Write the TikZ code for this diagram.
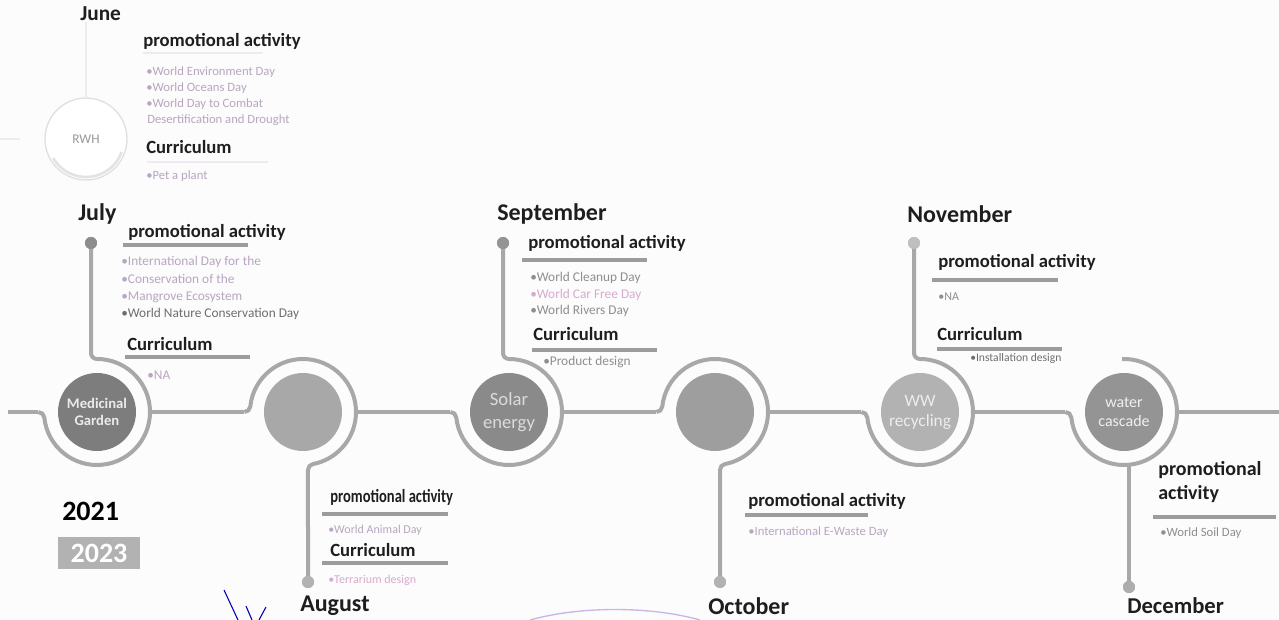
\documentclass[tikz,border=0pt]{standalone}
\usepackage{fontspec}
\setmainfont{Carlito}
\definecolor{trk}{HTML}{A8A8A8}
\definecolor{barc}{HTML}{9C9C9C}
\definecolor{ink}{HTML}{1E1E1E}
\definecolor{lil}{HTML}{B9A6C0}
\definecolor{pnk}{HTML}{D7ABCD}
\definecolor{gry}{HTML}{8E8E8E}
\definecolor{dgry}{HTML}{6E6E6E}
\definecolor{faint}{HTML}{EFEAF0}
\definecolor{bg}{HTML}{FCFCFC}
\definecolor{stamp}{HTML}{C9B6E6}
\begin{document}
\begin{tikzpicture}[x=0.75pt,y=-0.75pt,
 track/.style={draw=trk, line width=3pt},
 bar/.style={draw=barc, line width=3pt},
 faintbar/.style={draw=faint, line width=2pt},
 dotn/.style={circle, fill=#1, minimum size=9pt, inner sep=0pt},
 dotn/.default=trk,
 disc/.style={circle, fill=#1, minimum size=58.5pt, inner sep=0pt, align=center},
 head/.style={anchor=west, inner sep=0pt, text=ink, font=\bfseries\fontsize{14}{16}\selectfont},
 month/.style={anchor=west, inner sep=0pt, text=ink, font=\bfseries\fontsize{18}{20}\selectfont},
 item/.style={anchor=west, inner sep=0pt, text=#1, font=\fontsize{10}{12}\selectfont},
 item/.default=lil]
\useasboundingbox (0,0) rectangle (1279,620);
\fill[bg] (0,0) rectangle (1279,620);

% ---------- June (faded) ----------
\draw[draw=faint, line width=1.5pt] (86,22) -- (86,97);
\draw[draw=faint, line width=1.5pt] (0,139) -- (20,139);
\node[circle, fill=white, draw=black!12, line width=1pt, minimum size=61.5pt, inner sep=0pt, text=black!40, font=\fontsize{10}{12}\selectfont] (rwh) at (86,139) {RWH};
\draw[black!11, line width=2pt] ([shift={(20:38)}]rwh.center) arc[start angle=20, end angle=150, radius=38];
\node[month, font=\bfseries\fontsize{16}{18}\selectfont] (jun) at (80,14) {June};
\node[head] (junpa) at (143,41) {promotional activity};
\draw[faintbar] (143,53) -- (263,53);
\node[item, font=\fontsize{9.5}{11}\selectfont] (junb1) at (146,72) {•World Environment Day};
\node[item, font=\fontsize{9.5}{11}\selectfont] (junb2) at (146,88) {•World Oceans Day};
\node[item, font=\fontsize{9.5}{11}\selectfont] (junb3) at (146,104) {•World Day to Combat};
\node[item, font=\fontsize{9.5}{11}\selectfont] (junb4) at (147,120) {Desertification and Drought};
\node[head] (juncu) at (146,147) {Curriculum};
\draw[faintbar] (147,162) -- (268,162);
\node[item, font=\fontsize{9.5}{11}\selectfont] (junc1) at (146,176) {•Pet a plant};

% ---------- discs ----------
\node[disc=black!51, text=white!92!black, font=\bfseries\fontsize{11}{13}\selectfont] (c1) at (97,412) {Medicinal\\Garden};
\node[disc=black!34] (c2) at (303,412) {};
\node[disc=black!46, text=white!86!black, font=\fontsize{14}{17}\selectfont] (c3) at (509,412) {Solar\\energy};
\node[disc=black!38] (c4) at (715,412) {};
\node[disc=black!30, text=white!93!black, font=\fontsize{13}{15}\selectfont] (c5) at (920,412) {WW\\recycling};
\node[disc=black!42, text=white!94!black, font=\fontsize{12}{14}\selectfont] (c6) at (1124,412) {water\\cascade};

% ---------- dots ----------
\node[dotn=black!45] (d1) at (91,243) {};
\node[dotn=black!30] (d2) at (308,582) {};
\node[dotn=black!42] (d3) at (503,243) {};
\node[dotn=black!30] (d4) at (720,582) {};
\node[dotn=black!25] (d5) at (914,243) {};
\node[dotn=black!32] (d6) at (1129,587) {};

% ---------- track coordinates ----------
\coordinate (s0) at (8,412);
\coordinate (c1l) at (38.31,412);   \coordinate (c1r) at (150,412);
\coordinate (c2l) at (244.31,412);  \coordinate (c2r) at (356,412);
\coordinate (c3l) at (450.31,412);  \coordinate (c3r) at (562,412);
\coordinate (c4l) at (656.31,412);  \coordinate (c4r) at (768,412);
\coordinate (c5l) at (861.31,412);  \coordinate (c5r) at (973,412);
\coordinate (c6l) at (1065.31,412); \coordinate (c6r) at (1177,412);
\coordinate (c6b) at (1129,463);
\coordinate (s7) at (1279,412);

% main line segments
\draw[track] (s0) -- (c1l);
\draw[track] (c1r) -- (c2l);
\draw[track] (c2r) -- (c3l);
\draw[track] (c3r) -- (c4l);
\draw[track] (c4r) -- (c5l);
\draw[track] (c5r) -- (c6l);
\draw[track] (c6r) -- (s7);

% rings
\draw[track] (c1l) arc[start angle=-90,end angle=-5.84,radius=6] arc[start angle=-185.84,end angle=-450,radius=53] arc[start angle=90,end angle=180,radius=6] -- (d1.center);
\draw[track] (c2l) arc[start angle=90,end angle=5.84,radius=6] arc[start angle=-174.16,end angle=79.26,radius=53] arc[start angle=-100.74,end angle=-180,radius=6] -- (d2.center);
\draw[track] (c3l) arc[start angle=-90,end angle=-5.84,radius=6] arc[start angle=-185.84,end angle=-450,radius=53] arc[start angle=90,end angle=180,radius=6] -- (d3.center);
\draw[track] (c4l) arc[start angle=90,end angle=5.84,radius=6] arc[start angle=-174.16,end angle=79.26,radius=53] arc[start angle=-100.74,end angle=-180,radius=6] -- (d4.center);
\draw[track] (c5l) arc[start angle=-90,end angle=-5.84,radius=6] arc[start angle=-185.84,end angle=-450,radius=53] arc[start angle=90,end angle=180,radius=6] -- (d5.center);
\draw[track] (c6l) arc[start angle=-90,end angle=-5.84,radius=6] arc[start angle=-185.84,end angle=-452,radius=53];
\draw[track] (c6b) -- (d6.center);

% redraw dots on top
\foreach \d/\c in {d1/45,d2/30,d3/42,d4/30,d5/25,d6/32}{\fill[black!\c] (\d) circle[radius=6];}

% ---------- July ----------
\node[month] (jul) at (78,214) {July};
\node[head] (julpa) at (128,232) {promotional activity};
\draw[bar] (123,245) -- (248,245);
\node[item] (julb1) at (121,262) {•International Day for the};
\node[item] (julb2) at (121,279) {•Conservation of the};
\node[item] (julb3) at (121,297) {•Mangrove Ecosystem};
\node[item=dgry] (julb4) at (121,314) {•World Nature Conservation Day};
\node[head] (julcu) at (127,344) {Curriculum};
\draw[bar] (125,357) -- (250,357);
\node[item] (julc1) at (147,375) {•NA};

% ---------- August ----------
\node[head] (augpa) at (330,497) {\scalebox{0.78}[1]{promotional activity}};
\draw[bar] (322,514) -- (448,514);
\node[item, font=\fontsize{9}{11}\selectfont] (augb1) at (328,530) {•World Animal Day};
\node[head] (augcu) at (330,550) {Curriculum};
\draw[bar] (322,563) -- (448,563);
\node[item=pnk, font=\fontsize{9}{11}\selectfont] (augc1) at (328,580) {•Terrarium design};
\node[month] (aug) at (300,606) {August};

% ---------- September ----------
\node[month] (sep) at (497,214) {September};
\node[head] (seppa) at (528,243) {promotional activity};
\draw[bar] (522,260) -- (647,260);
\node[item=gry] (sepb1) at (530,278) {•World Cleanup Day};
\node[item=pnk] (sepb2) at (530,295) {•World Car Free Day};
\node[item=gry] (sepb3) at (530,311) {•World Rivers Day};
\node[head] (sepcu) at (533,334) {Curriculum};
\draw[bar] (532,350) -- (657,350);
\node[item=gry] (sepc1) at (543,362) {•Product design};

% ---------- October ----------
\node[head] (octpa) at (748,501) {promotional activity};
\draw[bar] (745,515) -- (868,515);
\node[item, font=\fontsize{9.5}{11}\selectfont] (octb1) at (748,532) {•International E-Waste Day};
\node[month] (oct) at (708,606) {October};

% ---------- November ----------
\node[month] (nov) at (907,214) {November};
\node[head] (novpa) at (938,262) {promotional activity};
\draw[bar] (932,280) -- (1058,280);
\node[item=gry, font=\fontsize{9}{11}\selectfont] (novb1) at (938,297) {•NA};
\node[head] (novcu) at (937,334) {Curriculum};
\draw[bar] (937,349) -- (1062,349);
\node[item=dgry, font=\fontsize{8.7}{10}\selectfont] (novc1) at (970,358) {•Installation design};

% ---------- December ----------
\node[head, font=\bfseries\fontsize{15}{18}\selectfont, align=left] (decpa) at (1158,482) {promotional\\activity};
\draw[bar] (1153,517) -- (1276,517);
\node[item=gry, font=\fontsize{9.5}{11}\selectfont] (decb1) at (1160,533) {•World Soil Day};
\node[month, font=\bfseries\fontsize{17}{20}\selectfont] (dec) at (1127,606) {December};

% ---------- years ----------
\node[anchor=west, inner sep=0pt, text=black, font=\bfseries\fontsize{21}{24}\selectfont] (y21) at (62,511) {2021};
\node[fill=black!30, text=white, font=\bfseries\fontsize{21}{24}\selectfont, minimum width=62pt, minimum height=24pt, inner sep=0pt] (y23) at (99,553) {2023};

% ---------- scan marks ----------
\draw[blue!70!black, line width=0.8pt] (224,590) -- (238,620);
\draw[blue!70!black, line width=0.8pt] (246,606) -- (252,620);
\draw[blue!70!black, line width=0.8pt] (266,607) -- (259,620);
\draw[stamp, line width=1pt] (530,620) .. controls (580,606) and (650,606) .. (700,620);
\end{tikzpicture}
\end{document}
